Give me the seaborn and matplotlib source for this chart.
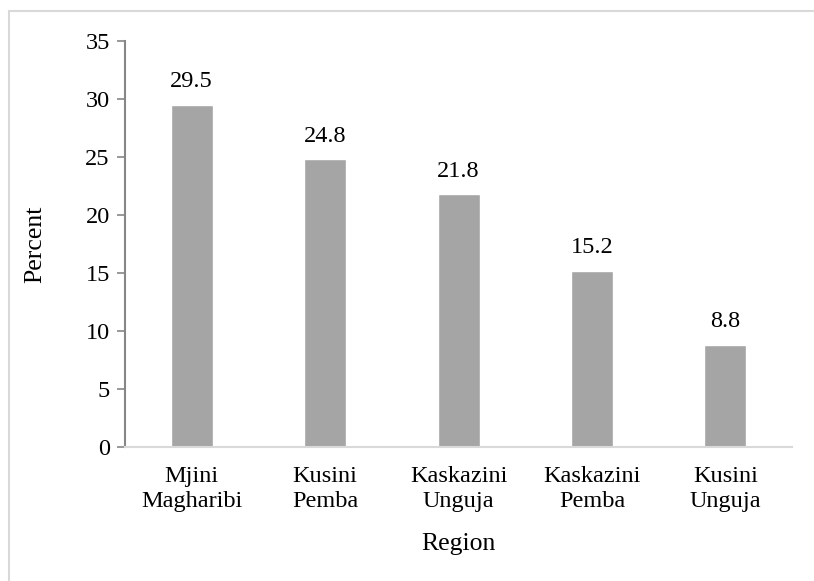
import matplotlib
matplotlib.use("Agg")
import matplotlib.pyplot as plt
from matplotlib.lines import Line2D
import seaborn as sns
import pandas as pd

regions = ["Mjini\nMagharibi", "Kusini\nPemba", "Kaskazini\nUnguja", "Kaskazini\nPemba", "Kusini\nUnguja"]
percent = [29.5, 24.8, 21.8, 15.2, 8.8]
y_ticks = [0, 5, 10, 15, 20, 25, 30, 35]

sns.set_theme(style="white")
plt.rcParams["font.family"] = ["Liberation Serif", "DejaVu Serif"]

df = pd.DataFrame({"Region": regions, "Percent": percent})

fig = plt.figure(figsize=(8.14, 5.81), dpi=100)
ax = fig.add_axes([0.1536, 0.2306, 0.8194, 0.6988])

sns.barplot(data=df, x="Region", y="Percent", color="#A5A5A5", saturation=1,
            width=0.315, ax=ax)

for i, v in enumerate(percent):
    ax.annotate(f"{v}", xy=(i, v), xytext=(0, 9), textcoords="offset points",
                ha="center", va="bottom", fontsize=17.5, color="#000000")

ax.set_xlim(-0.5, len(regions) - 0.5)
ax.set_ylim(0, 35)
ax.set_yticks(y_ticks)
ax.set_yticklabels([str(t) for t in y_ticks], fontsize=17.5)
ax.tick_params(axis="x", labelsize=17.5, labelcolor="#000000", length=0, pad=14)
ax.tick_params(axis="y", labelcolor="#000000", length=6, width=1.2, color="#868686",
               direction="out", left=True, pad=5)
for lbl in ax.get_xticklabels():
    lbl.set_linespacing(1.22)

ax.set_xlabel("Region", fontsize=18.5, color="#000000", labelpad=15)
ax.set_ylabel("Percent", fontsize=18.5, color="#000000", labelpad=28)

for s in ["top", "right"]:
    ax.spines[s].set_visible(False)
ax.spines["left"].set_color("#868686")
ax.spines["left"].set_linewidth(1.5)
ax.spines["bottom"].set_color("#D9D9D9")
ax.spines["bottom"].set_linewidth(1.5)

# light frame around the chart area
fig.add_artist(Line2D([9 / 814, 9 / 814], [0, 1 - 11 / 581], transform=fig.transFigure,
                      color="#D9D9D9", linewidth=1.5))
fig.add_artist(Line2D([9 / 814, 1], [1 - 11 / 581, 1 - 11 / 581], transform=fig.transFigure,
                      color="#D9D9D9", linewidth=1.5))

fig.savefig("out.png", dpi=100)
